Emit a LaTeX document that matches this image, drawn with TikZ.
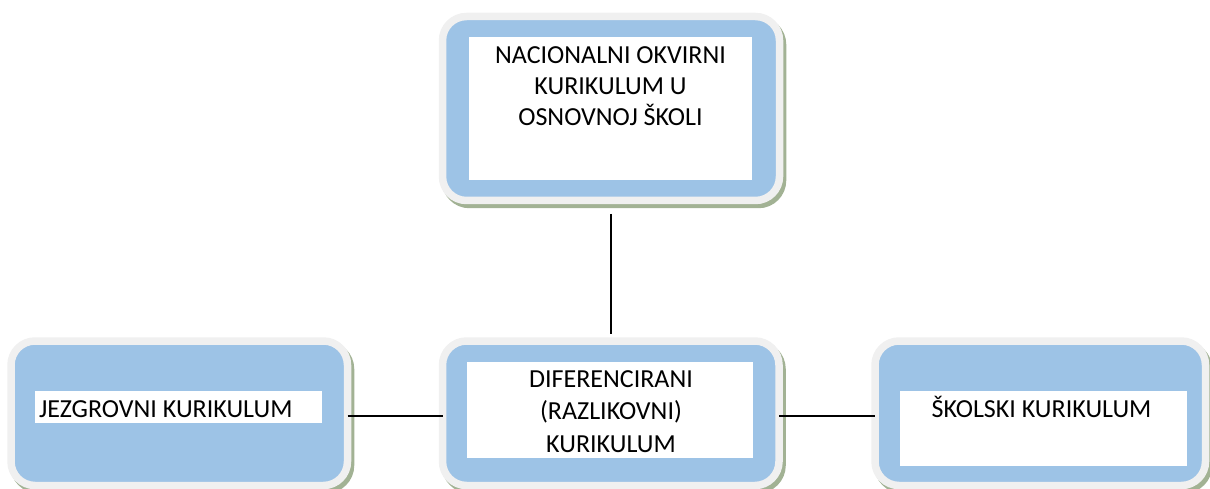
\documentclass[tikz,border=0pt]{standalone}
\usepackage{fontspec}
\setmainfont{Carlito}
\usetikzlibrary{shadows}
\definecolor{boxblue}{HTML}{9DC3E6}
\definecolor{ringgray}{HTML}{F0F0F0}
\definecolor{shadowc}{HTML}{A2B294}
\tikzset{
  outerbox/.style={draw=ringgray, fill=boxblue, line width=7.5pt, rounded corners=24pt,
    general shadow={shadow xshift=3pt, shadow yshift=-4pt, fill=shadowc, draw=shadowc, line width=7.5pt},
    inner sep=0pt, outer sep=0pt},
  whitebox/.style={fill=white, draw=none, inner sep=0pt, outer sep=0pt},
  label/.style={font=\fontsize{26}{31}\selectfont, inner sep=0pt, outer sep=0pt, align=center, anchor=base},
  conn/.style={draw=black, line width=1.8pt}
}
\begin{document}
\begin{tikzpicture}[x=1pt, y=-1pt]
\useasboundingbox (0,0) rectangle (1210,489);
% outer boxes
\node[outerbox, minimum width=337pt, minimum height=184pt] (top) at (611,108.5) {};
\node[outerbox, minimum width=336.5pt, minimum height=144.5pt] (left) at (179.25,413.25) {};
\node[outerbox, minimum width=336.5pt, minimum height=144.5pt] (mid) at (610.75,413.25) {};
\node[outerbox, minimum width=330.5pt, minimum height=144.5pt] (right) at (1040.25,413.25) {};
% white inner fields
\node[whitebox, minimum width=283pt, minimum height=143pt] (topw) at (610.5,108.5) {};
\node[whitebox, minimum width=286pt, minimum height=96pt] (midw) at (610,410) {};
\node[whitebox, minimum width=287pt, minimum height=32pt] (leftw) at (178.5,407) {};
\node[whitebox, minimum width=287pt, minimum height=75pt] (rightw) at (1043.5,428.5) {};
% texts
\node[label] (toptext) at (610.5,126) {NACIONALNI OKVIRNI\\KURIKULUM U\\OSNOVNOJ ŠKOLI};
\node[label, font=\fontsize{26}{32.5}\selectfont] (midtext) at (611,452) {DIFERENCIRANI\\(RAZLIKOVNI)\\KURIKULUM};
\node[label, anchor=base west] (lefttext) at (39,417) {JEZGROVNI KURIKULUM};
\node[label] (righttext) at (1041.5,417) {ŠKOLSKI KURIKULUM};
% connectors
\draw[conn, shorten <=13.5pt, shorten >=7pt] (top.south) -- (top.south |- mid.north);
\draw[conn] ([yshift=-3pt]left.east) -- ([yshift=-3pt]left.east -| mid.west);
\draw[conn] ([yshift=-3pt]mid.east) -- ([yshift=-3pt]mid.east -| right.west);
\end{tikzpicture}
\end{document}
